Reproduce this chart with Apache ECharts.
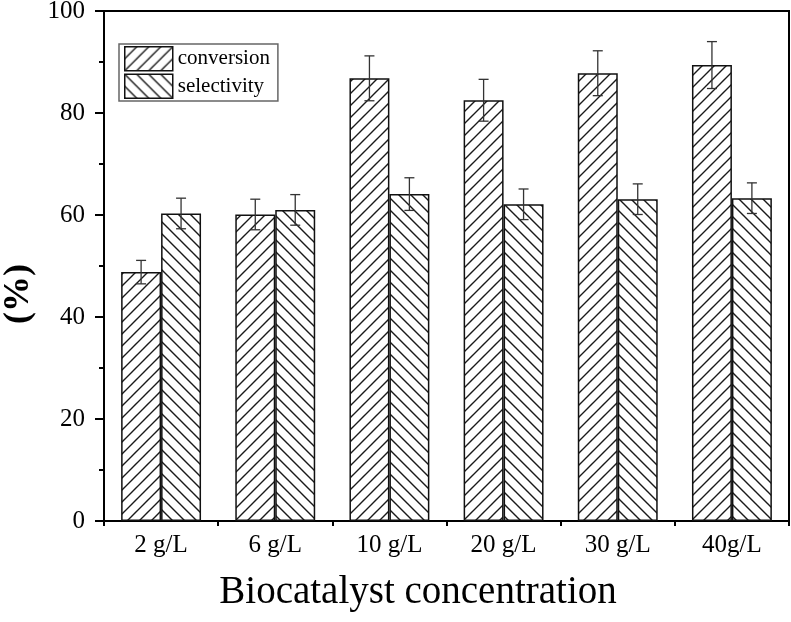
<!DOCTYPE html>
<html><head><meta charset="utf-8">
<script src="https://cdn.jsdelivr.net/npm/echarts@6/dist/echarts.min.js"></script>
<style>html,body{margin:0;padding:0;background:#fff}#c{width:791px;height:622px}</style>
</head><body><div id="c"></div>
<script>
const categories = ['2 g/L', '6 g/L', '10 g/L', '20 g/L', '30 g/L', '40g/L'];
const conversion = [48.8, 60.1, 86.8, 82.5, 87.8, 89.4];
const conversionErr = [2.3, 3.0, 4.4, 4.1, 4.4, 4.6];
const selectivity = [60.3, 61.0, 64.1, 62.1, 63.1, 63.3];
const selectivityErr = [3.0, 3.0, 3.2, 3.0, 3.0, 3.0];
const seriesNames = ['conversion', 'selectivity'];
const yMin = 0, yMax = 100, yInterval = 20;
const xTitle = 'Biocatalyst concentration';
const yTitle = '(%)';

const FONT = "'Liberation Serif', 'Times New Roman', serif";

function hatch(dir) {
  const s = 12;
  const c = document.createElement('canvas');
  c.width = s; c.height = s;
  const g = c.getContext('2d');
  g.fillStyle = '#fff'; g.fillRect(0, 0, s, s);
  g.strokeStyle = '#1a1a1a'; g.lineWidth = 1.4; g.beginPath();
  if (dir > 0) {
    g.moveTo(-2, s + 2); g.lineTo(s + 2, -2);
    g.moveTo(-2, 2); g.lineTo(2, -2);
    g.moveTo(s - 2, s + 2); g.lineTo(s + 2, s - 2);
  } else {
    g.moveTo(-2, -2); g.lineTo(s + 2, s + 2);
    g.moveTo(s - 2, -2); g.lineTo(s + 2, 2);
    g.moveTo(-2, s - 2); g.lineTo(2, s + 2);
  }
  g.stroke();
  return c;
}

const BAR_FRAC = 0.35;

function errSeries(vals, errs, side) {
  return {
    type: 'custom',
    name: 'err' + side,
    z: 10,
    silent: true,
    renderItem(params, api) {
      const i = api.value(0), v = api.value(1), e = api.value(2);
      const band = api.size([1, 0])[0];
      const dx = side * band * BAR_FRAC / 2;
      const top = api.coord([i, v + e]);
      const bot = api.coord([i, v - e]);
      const x = top[0] + dx, hw = 5;
      const st = { stroke: '#333', lineWidth: 1.3 };
      return { type: 'group', children: [
        { type: 'line', shape: { x1: x, y1: top[1], x2: x, y2: bot[1] }, style: st },
        { type: 'line', shape: { x1: x - hw, y1: top[1], x2: x + hw, y2: top[1] }, style: st },
        { type: 'line', shape: { x1: x - hw, y1: bot[1], x2: x + hw, y2: bot[1] }, style: st }
      ]};
    },
    data: vals.map((v, i) => [i, v, errs[i]])
  };
}

const chart = echarts.init(document.getElementById('c'), null, { renderer: 'canvas' });
chart.setOption({
  animation: false,
  backgroundColor: '#fff',
  textStyle: { fontFamily: FONT },
  grid: { left: 104, right: 2, top: 11, bottom: 101, outerBoundsMode: 'none', containLabel: false,
    show: true, borderColor: '#000', borderWidth: 2, backgroundColor: 'transparent' },
  legend: {
    data: seriesNames, orient: 'vertical', left: 119, top: 44,
    itemWidth: 48, itemHeight: 24, itemGap: 2, padding: [2, 8, 2, 5],
    borderColor: '#666', borderWidth: 1.5, icon: 'rect',
    textStyle: { fontFamily: FONT, fontSize: 21, color: '#000' },
    itemStyle: { borderColor: '#111', borderWidth: 1.5 }
  },
  xAxis: [{
    type: 'category', data: categories, position: 'bottom',
    axisLine: { lineStyle: { color: '#000', width: 2 } },
    axisTick: { alignWithLabel: true, length: 10, lineStyle: { color: '#000', width: 2 } },
    axisLabel: { fontFamily: FONT, fontSize: 25, color: '#000', margin: 12 },
    name: xTitle, nameLocation: 'middle', nameGap: 52,
    nameTextStyle: { fontFamily: FONT, fontSize: 39, color: '#000', padding: [0, 57, 0, 0] }
  }, {
    type: 'category', data: categories, position: 'bottom', offset: 0,
    axisLine: { show: false },
    axisTick: { show: true, alignWithLabel: false, length: 5, lineStyle: { color: '#000', width: 2 } },
    axisLabel: { show: false }
  }],
  yAxis: {
    type: 'value', min: yMin, max: yMax, interval: yInterval,
    axisLine: { show: true, lineStyle: { color: '#000', width: 2 } },
    axisTick: { show: true, length: 9, lineStyle: { color: '#000', width: 2 } },
    minorTick: { show: true, splitNumber: 2, length: 5, lineStyle: { color: '#000', width: 2 } },
    splitLine: { show: false },
    axisLabel: { fontFamily: FONT, fontSize: 25, color: '#000', margin: 19 },
    name: yTitle, nameLocation: 'middle', nameGap: 66, nameRotate: 90,
    nameTextStyle: { fontFamily: FONT, fontSize: 36, fontWeight: 'bold', color: '#000', padding: [0, 56, 0, 0] }
  },
  series: [
    { type: 'bar', name: seriesNames[0], data: conversion, barWidth: (BAR_FRAC * 100) + '%', barGap: '0%',
      itemStyle: { color: { image: hatch(1), repeat: 'repeat' }, borderColor: '#111', borderWidth: 1.5 } },
    { type: 'bar', name: seriesNames[1], data: selectivity, barWidth: (BAR_FRAC * 100) + '%', barGap: '0%',
      itemStyle: { color: { image: hatch(-1), repeat: 'repeat' }, borderColor: '#111', borderWidth: 1.5 } },
    errSeries(conversion, conversionErr, -1),
    errSeries(selectivity, selectivityErr, 1)
  ]
});
</script></body></html>
